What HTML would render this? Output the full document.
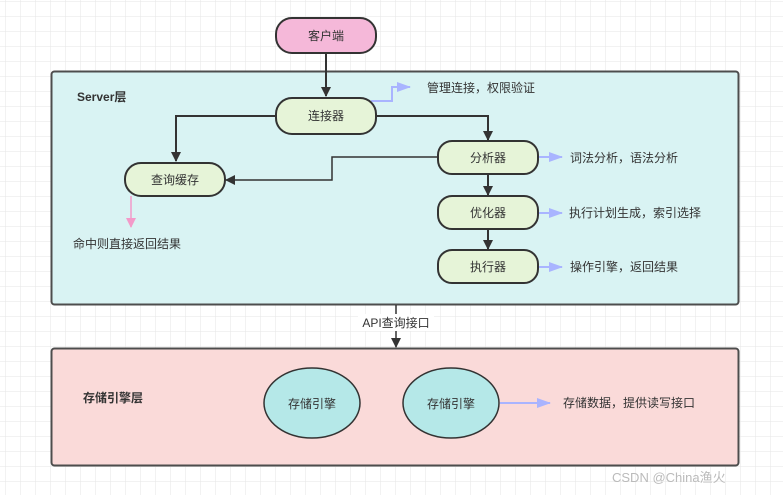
<!DOCTYPE html>
<html><head><meta charset="utf-8"><style>
html,body{margin:0;padding:0;background:#fff;}
svg{display:block;}
text{font-family:"Liberation Sans","Noto Sans CJK SC",sans-serif;font-size:12px;fill:#333;}
</style></head><body>
<svg width="783" height="495" viewBox="0 0 783 495" xmlns="http://www.w3.org/2000/svg">
<defs>
<pattern id="g" width="15" height="15" patternUnits="userSpaceOnUse" x="6" y="2">
<path d="M15 0 V15 M0 15 H15" fill="none" stroke="#e6e6e6" stroke-width="1"/>
</pattern>
<marker id="a" markerWidth="10" markerHeight="10" refX="9" refY="5" orient="auto" markerUnits="userSpaceOnUse"><path d="M0 0 L10 5 L0 10 Z" fill="#333"/></marker>
<marker id="b" markerWidth="14" markerHeight="10" refX="13" refY="5" orient="auto" markerUnits="userSpaceOnUse"><path d="M0 0 L14 5 L0 10 Z" fill="#a9b4ff"/></marker>
<marker id="p" markerWidth="10" markerHeight="14" refX="9" refY="5" orient="auto" markerUnits="userSpaceOnUse"><path d="M0 0 L10 5 L0 10 Z" fill="#f39ac9"/></marker>
</defs>
<rect width="783" height="495" fill="url(#g)"/>
<rect x="51.5" y="71.5" width="687" height="233" rx="3" fill="#d9f3f3" stroke="#4d4d4d" stroke-width="2"/>
<text x="77" y="101" style="font-weight:bold;font-size:12px">Server层</text>
<rect x="51.5" y="348.5" width="687" height="117" rx="3" fill="#fadad9" stroke="#4d4d4d" stroke-width="2"/>
<text x="83" y="402" style="font-weight:bold;font-size:12px">存储引擎层</text>
<path d="M326 53 V96" stroke="#333" stroke-width="2" fill="none" marker-end="url(#a)"/>
<path d="M376 116 H488 V140" stroke="#333" stroke-width="2" fill="none" marker-end="url(#a)"/>
<path d="M276 116 H176 V161" stroke="#333" stroke-width="2" fill="none" marker-end="url(#a)"/>
<path d="M438 157 H332 V180 H226" stroke="#333" stroke-width="1.5" fill="none" marker-end="url(#a)"/>
<path d="M488 174 V195" stroke="#333" stroke-width="2" fill="none" marker-end="url(#a)"/>
<path d="M488 229 V249" stroke="#333" stroke-width="2" fill="none" marker-end="url(#a)"/>
<path d="M371 101 H392 V87 H410" stroke="#a9b4ff" stroke-width="2" fill="none" marker-end="url(#b)"/>
<path d="M538 157 H562" stroke="#a9b4ff" stroke-width="2" fill="none" marker-end="url(#b)"/>
<path d="M538 213 H562" stroke="#a9b4ff" stroke-width="2" fill="none" marker-end="url(#b)"/>
<path d="M538 267 H562" stroke="#a9b4ff" stroke-width="2" fill="none" marker-end="url(#b)"/>
<path d="M500 403 H550" stroke="#a9b4ff" stroke-width="2" fill="none" marker-end="url(#b)"/>
<path d="M131 196 V227" stroke="#f39ac9" stroke-width="1.5" fill="none" marker-end="url(#p)"/>
<path d="M396 305 V347" stroke="#333" stroke-width="1.5" fill="none" marker-end="url(#a)"/>
<rect x="358" y="314" width="76" height="17" fill="#fff"/>
<text x="396" y="327" text-anchor="middle">API查询接口</text>
<rect x="276" y="18" width="100" height="35" rx="16" fill="#f5b8d9" stroke="#333" stroke-width="2"/>
<text x="326" y="40" text-anchor="middle">客户端</text>
<rect x="276" y="98" width="100" height="36" rx="16" fill="#e6f4d8" stroke="#333" stroke-width="2"/>
<text x="326" y="120" text-anchor="middle">连接器</text>
<rect x="125" y="163" width="100" height="33" rx="16" fill="#e6f4d8" stroke="#333" stroke-width="2"/>
<text x="175" y="184" text-anchor="middle">查询缓存</text>
<rect x="438" y="141" width="100" height="33" rx="14" fill="#e6f4d8" stroke="#333" stroke-width="2"/>
<text x="488" y="162" text-anchor="middle">分析器</text>
<rect x="438" y="196" width="100" height="33" rx="14" fill="#e6f4d8" stroke="#333" stroke-width="2"/>
<text x="488" y="217" text-anchor="middle">优化器</text>
<rect x="438" y="250" width="100" height="33" rx="14" fill="#e6f4d8" stroke="#333" stroke-width="2"/>
<text x="488" y="271" text-anchor="middle">执行器</text>
<ellipse cx="312" cy="403" rx="48" ry="35" fill="#b5e8e8" stroke="#333" stroke-width="1.5"/>
<text x="312" y="408" text-anchor="middle">存储引擎</text>
<ellipse cx="451" cy="403" rx="48" ry="35" fill="#b5e8e8" stroke="#333" stroke-width="1.5"/>
<text x="451" y="408" text-anchor="middle">存储引擎</text>
<text x="427" y="92">管理连接，权限验证</text>
<text x="570" y="162">词法分析，语法分析</text>
<text x="569" y="217">执行计划生成，索引选择</text>
<text x="570" y="271">操作引擎，返回结果</text>
<text x="73" y="248">命中则直接返回结果</text>
<text x="563" y="407">存储数据，提供读写接口</text>
<text x="612" y="482" style="fill:#bbb;font-size:13px">CSDN @China渔火</text>
</svg>
</body></html>
